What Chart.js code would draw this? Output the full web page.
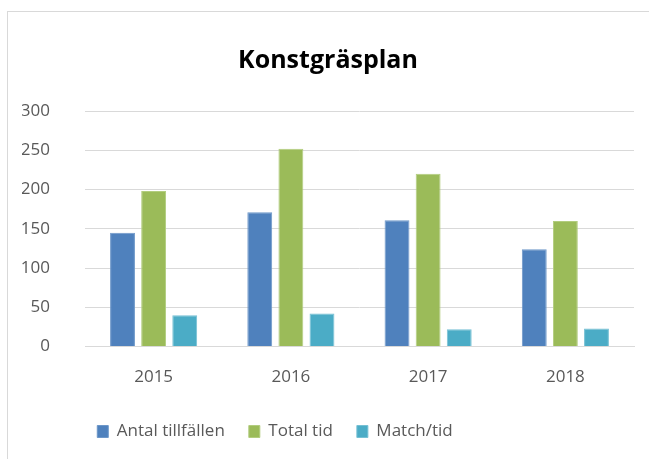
<!DOCTYPE html>
<html>
<head>
<meta charset="utf-8">
<script src="https://cdn.jsdelivr.net/npm/chart.js@4"></script>
<style>
  html, body { margin: 0; padding: 0; background: #fff; }
  #frame { position: absolute; left: 7px; top: 11px; width: 660px; height: 470px; border: 1px solid #d9d9d9; }
  #wrap { position: absolute; left: 0; top: 0; width: 649px; height: 459px; }
</style>
</head>
<body>
<div id="frame"></div>
<div id="wrap"><canvas id="chart"></canvas></div>
<script>
// data
var years = ["2015", "2016", "2017", "2018"];
var antalTillfallen = [145, 171, 161, 124];
var totalTid = [198, 252, 220, 160];
var matchTid = [40, 42, 22, 23];
var yTicks = [0, 50, 100, 150, 200, 250, 300];

var textGray = "#595959";
var fontFamily = "'Open Sans', 'Noto Sans', sans-serif";

// the legend in the picture sits left of centre
var shiftLegend = {
  id: 'shiftLegend',
  afterLayout: function (chart) {
    chart.legend.left -= 53;
    chart.legend.right -= 53;
  }
};

function createBarChart(canvasId) {
  new Chart(document.getElementById(canvasId), {
    type: 'bar',
    data: {
      labels: years,
      datasets: [{
        label: "Antal tillfällen",
        data: antalTillfallen,
        backgroundColor: "#4f81bd",
        borderColor: "#6d97c9",
        borderWidth: 1
      }, {
        label: "Total tid",
        data: totalTid,
        backgroundColor: "#9bbb59",
        borderColor: "#b2cd7e",
        borderWidth: 1
      }, {
        label: "Match/tid",
        data: matchTid,
        backgroundColor: "#4bacc6",
        borderColor: "#76c0d4",
        borderWidth: 1
      }]
    },
    options: {
      responsive: true,
      maintainAspectRatio: false,
      animation: false,
      categoryPercentage: 0.68,
      barPercentage: 0.8,
      layout: { padding: { left: 22, right: 15, top: 46, bottom: 9 } },
      plugins: {
        title: {
          display: true,
          text: "Konstgräsplan",
          color: "#000",
          font: { family: fontFamily, size: 25, weight: 'bold' },
          padding: { top: 0, bottom: 35 }
        },
        legend: {
          position: 'bottom',
          labels: {
            color: textGray,
            font: { family: fontFamily, size: 17 },
            boxWidth: 11,
            boxHeight: 12,
            padding: 24
          }
        },
        tooltip: { enabled: false }
      },
      scales: {
        x: {
          grid: { display: false },
          border: { display: true, color: "#d9d9d9" },
          ticks: { color: textGray, font: { family: fontFamily, size: 17 }, padding: 12 }
        },
        y: {
          min: 0,
          max: 300,
          afterBuildTicks: function (axis) {
            axis.ticks = yTicks.map(function (v) { return { value: v }; });
          },
          afterFit: function (axis) { axis.width = 63; },
          grid: { color: "#d9d9d9", lineWidth: 1, drawTicks: false },
          border: { display: false },
          ticks: { color: textGray, font: { family: fontFamily, size: 17 }, padding: 35 }
        }
      }
    },
    plugins: [shiftLegend]
  });
}

createBarChart("chart");
</script>
</body>
</html>
